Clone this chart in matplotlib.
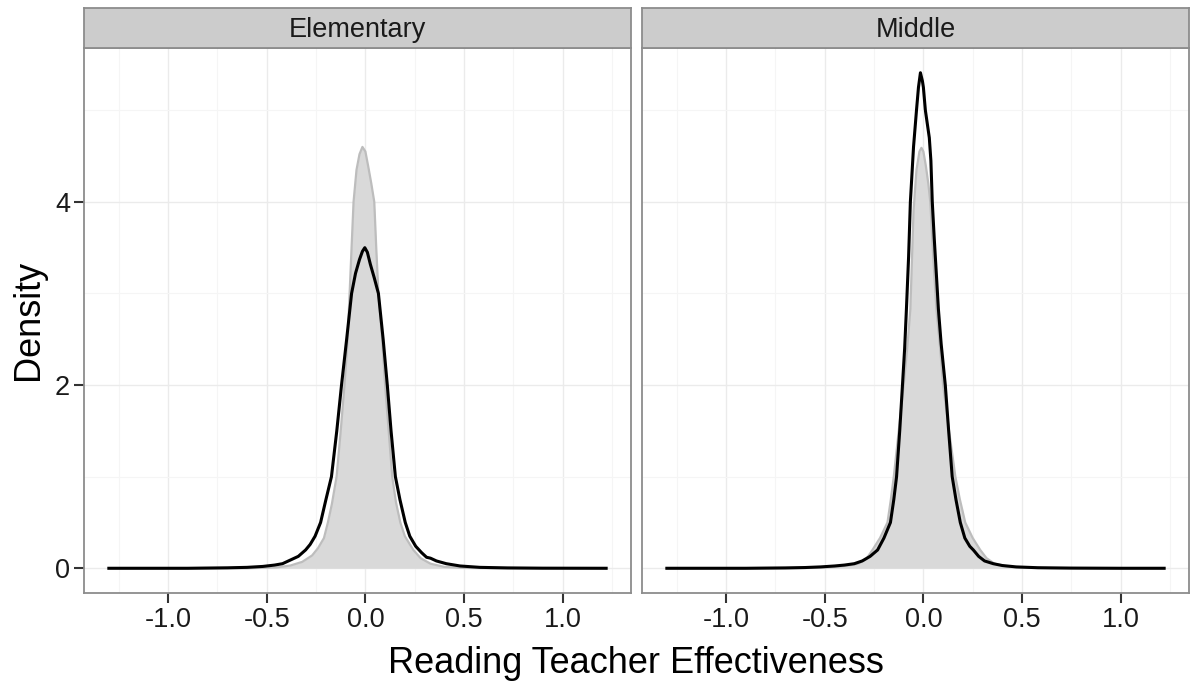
import numpy as np
import matplotlib.pyplot as plt

plt.rcParams['font.family'] = ['Liberation Sans', 'DejaVu Sans']

panels = ["Elementary", "Middle"]

# Elementary: grey filled density
elem_fill_x = [-1.30, -0.60, -0.45, -0.38, -0.32, -0.27, -0.24, -0.21, -0.19, -0.17,
               -0.146, -0.125, -0.106, -0.09, -0.08, -0.07, -0.06, -0.045, -0.03, -0.015,
               0.0, 0.015, 0.03, 0.045, 0.055, 0.066, 0.085, 0.10, 0.118, 0.136,
               0.155, 0.177, 0.20, 0.243, 0.28, 0.33, 0.40, 0.50, 0.65, 1.22]
elem_fill_y = [0, 0.0, 0.01, 0.03, 0.07, 0.14, 0.22, 0.33, 0.5, 0.7,
               1.0, 1.5, 2.0, 2.5, 3.0, 3.5, 4.0, 4.35, 4.52, 4.60,
               4.55, 4.38, 4.2, 4.0, 3.5, 3.0, 2.5, 2.0, 1.5, 1.0,
               0.72, 0.5, 0.35, 0.2, 0.11, 0.05, 0.015, 0.004, 0.0, 0]

# Elementary: black line density
elem_line_x = [-1.30, -0.90, -0.70, -0.60, -0.52, -0.46, -0.42, -0.38, -0.34, -0.303,
               -0.28, -0.255, -0.227, -0.20, -0.172, -0.145, -0.121, -0.095, -0.07, -0.05,
               -0.03, -0.015, -0.003, 0.01, 0.025, 0.045, 0.066, 0.09, 0.111, 0.13,
               0.152, 0.175, 0.202, 0.225, 0.255, 0.285, 0.31, 0.33, 0.36, 0.41,
               0.48, 0.58, 0.72, 0.90, 1.22]
elem_line_y = [0, 0.0, 0.005, 0.01, 0.02, 0.035, 0.05, 0.09, 0.13, 0.2,
               0.26, 0.35, 0.5, 0.75, 1.0, 1.5, 2.0, 2.5, 3.0, 3.22,
               3.37, 3.46, 3.5, 3.45, 3.32, 3.17, 3.0, 2.5, 2.0, 1.5,
               1.0, 0.75, 0.5, 0.35, 0.24, 0.17, 0.12, 0.11, 0.08, 0.05,
               0.025, 0.01, 0.004, 0.001, 0]

# Middle: grey filled density
mid_fill_x = [-1.30, -0.70, -0.55, -0.45, -0.38, -0.33, -0.29, -0.258, -0.22, -0.182,
              -0.165, -0.15, -0.125, -0.10, -0.08, -0.066, -0.05, -0.035, -0.02, -0.01,
              0.0, 0.012, 0.025, 0.035, 0.05, 0.066, 0.085, 0.10, 0.13, 0.162,
              0.185, 0.212, 0.25, 0.288, 0.32, 0.36, 0.42, 0.50, 0.65, 1.22]
mid_fill_y = [0, 0.0, 0.005, 0.015, 0.03, 0.05, 0.1, 0.2, 0.33, 0.5,
              0.75, 1.0, 1.5, 2.0, 2.45, 2.83, 3.9, 4.35, 4.55, 4.59,
              4.55, 4.4, 4.2, 4.0, 3.4, 2.83, 2.4, 2.0, 1.5, 1.0,
              0.75, 0.5, 0.33, 0.2, 0.11, 0.05, 0.02, 0.006, 0.001, 0]

# Middle: black line density
mid_line_x = [-1.30, -0.90, -0.70, -0.60, -0.52, -0.45, -0.40, -0.35, -0.31, -0.27,
              -0.232, -0.20, -0.167, -0.15, -0.136, -0.12, -0.106, -0.095, -0.086, -0.075,
              -0.066, -0.05, -0.035, -0.025, -0.015, -0.005, 0.0, 0.01, 0.02, 0.03,
              0.038, 0.045, 0.055, 0.066, 0.076, 0.09, 0.111, 0.128, 0.146, 0.165,
              0.187, 0.21, 0.235, 0.253, 0.28, 0.31, 0.354, 0.40, 0.47, 0.58,
              0.75, 1.0, 1.22]
mid_line_y = [0, 0.0, 0.004, 0.008, 0.015, 0.025, 0.035, 0.05, 0.08, 0.13,
              0.2, 0.33, 0.5, 0.75, 1.0, 1.5, 2.0, 2.4, 2.83, 3.4,
              4.0, 4.6, 5.0, 5.25, 5.41, 5.32, 5.25, 5.0, 4.85, 4.7,
              4.45, 4.0, 3.6, 3.2, 2.83, 2.45, 2.0, 1.5, 1.0, 0.75,
              0.5, 0.33, 0.24, 0.2, 0.13, 0.08, 0.05, 0.03, 0.015, 0.006,
              0.002, 0.0, 0]

x_ticks = [-1.0, -0.5, 0.0, 0.5, 1.0]
x_labels = ["-1.0", "-0.5", "0.0", "0.5", "1.0"]
y_ticks = [0, 2, 4]

fills = [(elem_fill_x, elem_fill_y), (mid_fill_x, mid_fill_y)]
lines = [(elem_line_x, elem_line_y), (mid_line_x, mid_line_y)]

W, H = 1193, 681
fig = plt.figure(figsize=(W / 100, H / 100), dpi=100)

def box(l, t, r, b):
    return [l / W, 1 - b / H, (r - l) / W, (b - t) / H]

panel_px = [(84, 48, 631, 593), (642, 48, 1189, 593)]
border = "#8C8C8C"

for i, name in enumerate(panels):
    l, t, r, b = panel_px[i]
    ax = fig.add_axes(box(l, t, r, b))
    fx, fy = fills[i]
    lx, ly = lines[i]
    ax.fill_between(fx, fy, 0, color="#D9D9D9", lw=0, zorder=2)
    ax.plot(fx, fy, color="#BDBDBD", lw=1.6, zorder=3, solid_joinstyle="round")
    ax.plot(lx, ly, color="black", lw=2.2, zorder=4, solid_joinstyle="round")

    ax.set_xlim(-1.426, 1.346)
    ax.set_ylim(-0.27, 5.68)
    ax.set_xticks(x_ticks)
    ax.set_xticklabels(x_labels)
    ax.set_xticks([-1.25, -0.75, -0.25, 0.25, 0.75, 1.25], minor=True)
    ax.set_yticks([1, 3, 5], minor=True)
    ax.set_yticks(y_ticks)
    ax.set_yticklabels([str(v) for v in y_ticks])
    ax.set_axisbelow(True)
    ax.grid(which="major", color="#EBEBEB", lw=1.0)
    ax.grid(which="minor", color="#F5F5F5", lw=0.8)
    ax.tick_params(which="major", length=7, width=1.5, color="#333333",
                   labelsize=19.5, labelcolor="#1a1a1a", pad=3)
    ax.tick_params(which="minor", length=0)
    if i == 1:
        ax.tick_params(axis="y", length=0, labelleft=False)
    for s in ax.spines.values():
        s.set_color(border)
        s.set_linewidth(1.3)

    # facet strip
    sax = fig.add_axes(box(l, 8, r, 48))
    sax.set_facecolor("#CCCCCC")
    sax.set_xticks([])
    sax.set_yticks([])
    for s in sax.spines.values():
        s.set_color(border)
        s.set_linewidth(1.3)
    sax.text(0.5, 0.45, name, ha="center", va="center", fontsize=19.5,
             color="#1a1a1a", transform=sax.transAxes)

fig.text(636 / W, 1 - 673 / H, "Reading Teacher Effectiveness", ha="center",
         va="baseline", fontsize=26)
fig.text(38 / W, 1 - 320 / H, "Density", rotation=90, rotation_mode="anchor",
         ha="center", va="baseline", fontsize=26)

fig.savefig("out.png", dpi=100)
